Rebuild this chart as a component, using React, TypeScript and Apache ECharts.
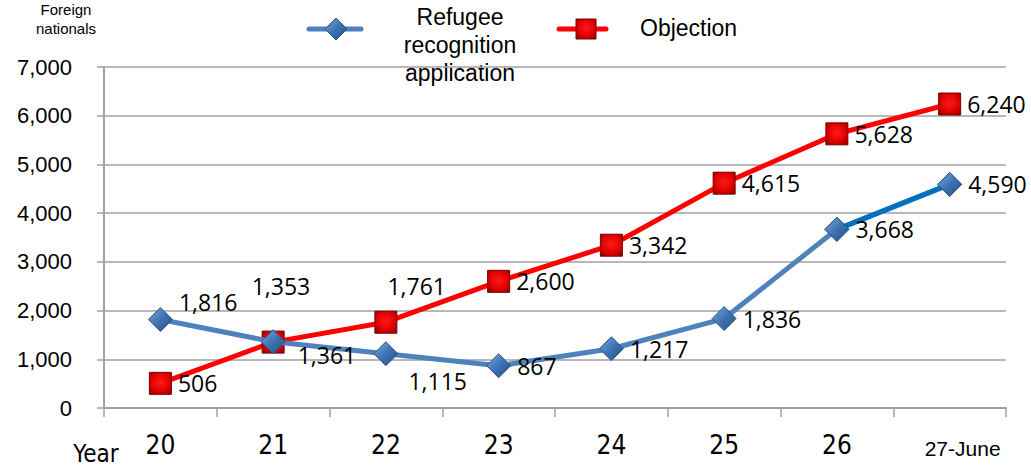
import React, { useEffect, useRef } from "react";
import * as echarts from "echarts";

const categories = ["20", "21", "22", "23", "24", "25", "26", "27-June"];
const refugeeApplications = [1816, 1361, 1115, 867, 1217, 1836, 3668, 4590];
const objections = [506, 1353, 1761, 2600, 3342, 4615, 5628, 6240];
const yTicks = [0, 1000, 2000, 3000, 4000, 5000, 6000, 7000];

// label offsets (styling only) for crowded points
const blueLabelOffsets: Record<number, [number, number]> = {
  0: [0, -18],
  1: [6, 13],
  2: [4, 27],
};
const redLabelOffsets: Record<number, [number, number]> = {
  1: [-39, -56],
  2: [-16, -36],
};

const fmt = (v: number) => v.toLocaleString("en-US");

const LABEL_FONT = "'Open Sans', 'Noto Sans', sans-serif";
const ARIAL = "'Liberation Sans', Arial, sans-serif";
const CONDENSED = "'DejaVu Sans Condensed', 'DejaVu Sans', sans-serif";

const blueGradient = () =>
  new echarts.graphic.LinearGradient(0, 0, 1, 1, [
    { offset: 0, color: "#7FAAE0" },
    { offset: 0.5, color: "#3F72B2" },
    { offset: 1, color: "#23507F" },
  ]);
const redGradient = () =>
  new echarts.graphic.RadialGradient(0.5, 0.45, 0.7, [
    { offset: 0, color: "#FF1A1A" },
    { offset: 0.6, color: "#E00000" },
    { offset: 1, color: "#8A0000" },
  ]);

export default function App() {
  const ref = useRef<HTMLDivElement>(null);
  useEffect(() => {
    if (!ref.current) return;
    const chart = echarts.init(ref.current, null, { renderer: "svg" });
    const labelBase = {
      show: true,
      position: "right" as const,
      distance: 6,
      fontFamily: LABEL_FONT,
      fontSize: 23,
      color: "#000",
      formatter: (p: any) => fmt(p.value),
    };
    const blueData = refugeeApplications.map((v, i) =>
      blueLabelOffsets[i]
        ? { value: v, label: { offset: blueLabelOffsets[i] } }
        : { value: v }
    );
    const redData = objections.map((v, i) =>
      redLabelOffsets[i]
        ? { value: v, label: { offset: redLabelOffsets[i] } }
        : { value: v }
    );
    const lastSegment = refugeeApplications.map((v, i) =>
      i >= refugeeApplications.length - 2 ? v : "-"
    );
    chart.setOption({
      animation: false,
      grid: { left: 104, top: 67, width: 902, height: 341, containLabel: false },
      xAxis: {
        type: "category",
        data: categories,
        boundaryGap: true,
        axisLine: { lineStyle: { color: "#A0A0A0", width: 2 } },
        axisTick: { show: true, length: 9, interval: 0, lineStyle: { color: "#A0A0A0", width: 1.5 } },
        axisLabel: {
          interval: 0,
          margin: 24,
          fontFamily: CONDENSED,
          fontSize: 26,
          color: "#000",
          formatter: (v: string) => (v.includes("June") ? `{s|${v}}` : v),
          rich: {
            s: { fontFamily: ARIAL, fontSize: 21, color: "#000", padding: [6, 0, 0, 26] },
          },
        },
      },
      yAxis: {
        type: "value",
        min: yTicks[0],
        max: yTicks[yTicks.length - 1],
        interval: 1000,
        axisLine: { show: true, lineStyle: { color: "#A0A0A0", width: 2 } },
        axisTick: { show: true, length: 7, lineStyle: { color: "#A0A0A0", width: 1.5 } },
        splitLine: { lineStyle: { color: "#A0A0A0", width: 1.5 } },
        axisLabel: {
          margin: 32,
          fontFamily: ARIAL,
          fontSize: 22,
          color: "#000",
          formatter: (v: number) => fmt(v),
        },
      },
      series: [
        {
          name: "Objection",
          type: "line",
          data: redData,
          symbol: "rect",
          symbolSize: 22,
          lineStyle: { color: "#FF0000", width: 5 },
          itemStyle: { color: redGradient(), borderColor: "#7A0000", borderWidth: 1 },
          label: labelBase,
          z: 3,
        },
        {
          name: "Refugee recognition application",
          type: "line",
          data: blueData,
          symbol: "diamond",
          symbolSize: 24,
          lineStyle: { color: "#4F81BD", width: 5 },
          itemStyle: { color: blueGradient(), borderColor: "#2C5686", borderWidth: 1 },
          label: labelBase,
          z: 4,
        },
        {
          name: "blue-last",
          type: "line",
          data: lastSegment,
          symbol: "diamond",
          symbolSize: 24,
          silent: true,
          lineStyle: { color: "#0070C0", width: 5 },
          itemStyle: { color: blueGradient(), borderColor: "#2C5686", borderWidth: 1 },
          label: { show: false },
          z: 4,
        },
      ],
      graphic: [
        {
          type: "group",
          z: 100,
          children: [
            {
              type: "text",
              x: 66,
              y: 19,
              style: {
                text: "Foreign\nnationals",
                fontFamily: ARIAL,
                fontSize: 15,
                lineHeight: 19,
                fill: "#000",
                align: "center",
                verticalAlign: "middle",
              },
            },
            {
              type: "text",
              x: 96,
              y: 454,
              style: {
                text: "Year",
                fontFamily: CONDENSED,
                fontSize: 24,
                fill: "#000",
                align: "center",
                verticalAlign: "middle",
              },
            },
            {
              type: "rect",
              shape: { x: 367, y: 0, width: 186, height: 90 },
              style: { fill: "#fff" },
            },
            {
              type: "line",
              shape: { x1: 309, y1: 29, x2: 361, y2: 29 },
              style: { stroke: "#4F81BD", lineWidth: 5, lineCap: "round" },
            },
            {
              type: "polygon",
              shape: { points: [[336, 18], [347, 29], [336, 40], [325, 29]] },
              style: { fill: blueGradient(), stroke: "#2C5686", lineWidth: 1 },
            },
            {
              type: "text",
              x: 460,
              y: 45,
              style: {
                text: "Refugee\nrecognition\napplication",
                fontFamily: ARIAL,
                fontSize: 23,
                lineHeight: 28,
                fill: "#000",
                align: "center",
                verticalAlign: "middle",
              },
            },
            {
              type: "line",
              shape: { x1: 559, y1: 29, x2: 606, y2: 29 },
              style: { stroke: "#FF0000", lineWidth: 5, lineCap: "round" },
            },
            {
              type: "rect",
              shape: { x: 576, y: 19, width: 20, height: 20 },
              style: { fill: redGradient(), stroke: "#7A0000", lineWidth: 1 },
            },
            {
              type: "text",
              x: 640,
              y: 28,
              style: {
                text: "Objection",
                fontFamily: ARIAL,
                fontSize: 23,
                fill: "#000",
                align: "left",
                verticalAlign: "middle",
              },
            },
          ],
        },
      ],
    });
    return () => chart.dispose();
  }, []);
  return <div ref={ref} style={{ width: 1031, height: 467, position: "absolute", left: 0, top: 0 }} />;
}
